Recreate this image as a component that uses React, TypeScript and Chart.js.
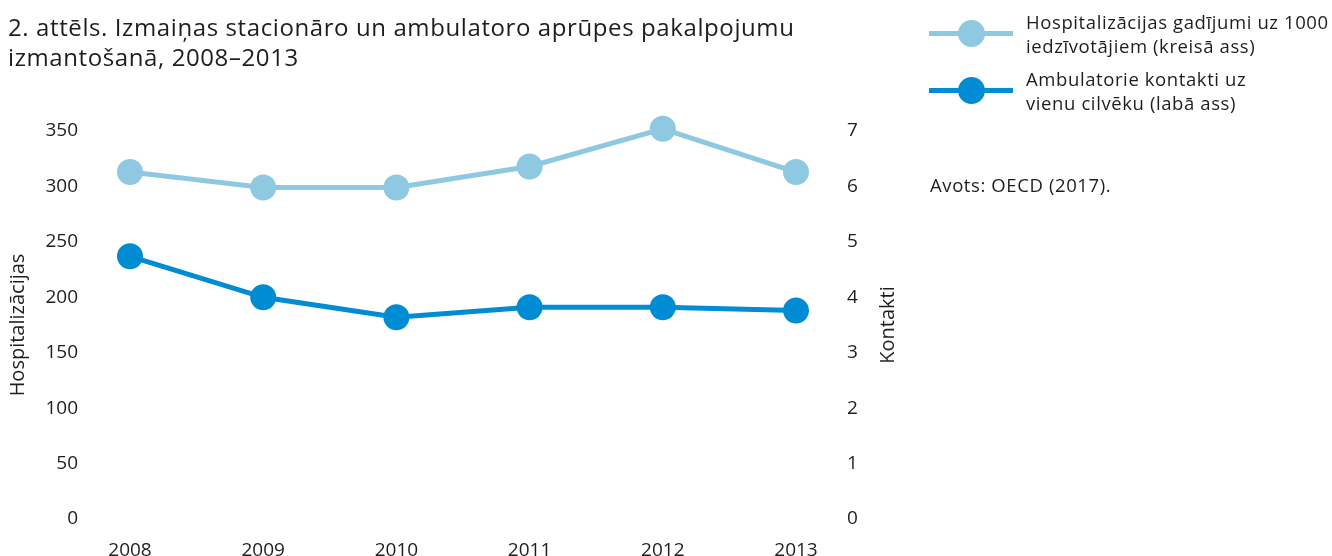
import React, { useEffect, useRef } from "react";
import { Chart, registerables } from "chart.js";

Chart.register(...registerables);

const years = ["2008", "2009", "2010", "2011", "2012", "2013"];
const hospitalisations = [313, 299, 299, 318, 352, 313];
const contacts = [4.74, 4.0, 3.64, 3.82, 3.82, 3.76];
const titleLines = [
  "2. attēls. Izmaiņas stacionāro un ambulatoro aprūpes pakalpojumu",
  "izmantošanā, 2008–2013",
];
const legendLines = [
  ["Hospitalizācijas gadījumi uz 1000", "iedzīvotājiem (kreisā ass)"],
  ["Ambulatorie kontakti uz", "vienu cilvēku (labā ass)"],
];
const leftAxisTitle = "Hospitalizācijas";
const rightAxisTitle = "Kontakti";
const sourceText = "Avots: OECD (2017).";
const colors = ["#8FC8E1", "#008CD2"];

const FONT = "'Open Sans', 'Noto Sans', sans-serif";
const TEXT = "#1e1e1e";

const rightTitlePlugin = {
  id: "rightTitle",
  afterDraw(chart: any) {
    const s = chart.scales.y1;
    const ca = chart.chartArea;
    const ctx = chart.ctx;
    ctx.save();
    ctx.translate(s.left + 92, (ca.top + ca.bottom) / 2);
    ctx.rotate(-Math.PI / 2);
    ctx.font = `20px ${FONT}`;
    ctx.fillStyle = TEXT;
    ctx.textAlign = "center";
    ctx.textBaseline = "middle";
    ctx.fillText(rightAxisTitle, 0, 0);
    ctx.restore();
  },
};

export default function App() {
  const ref = useRef<HTMLCanvasElement | null>(null);

  useEffect(() => {
    document.body.style.margin = "0";
    const chart = new Chart(ref.current as HTMLCanvasElement, {
      type: "line",
      data: {
        labels: years,
        datasets: [
          {
            label: legendLines[0].join(" "),
            data: hospitalisations,
            yAxisID: "y",
            borderColor: colors[0],
            backgroundColor: colors[0],
            borderWidth: 5,
            pointRadius: 13,
            pointHoverRadius: 13,
            pointBorderWidth: 0,
            clip: false as any,
            tension: 0,
          },
          {
            label: legendLines[1].join(" "),
            data: contacts,
            yAxisID: "y1",
            borderColor: colors[1],
            backgroundColor: colors[1],
            borderWidth: 5,
            pointRadius: 13,
            pointHoverRadius: 13,
            pointBorderWidth: 0,
            clip: false as any,
            tension: 0,
          },
        ],
      },
      options: {
        animation: false,
        responsive: false,
        maintainAspectRatio: false,
        layout: { padding: { top: 131, right: 426, bottom: 0, left: 0 } },
        plugins: {
          legend: { display: false },
          tooltip: { enabled: false },
          title: { display: false },
        },
        scales: {
          x: {
            offset: false,
            grid: { display: false, drawTicks: false },
            border: { display: false },
            ticks: { color: TEXT, font: { family: FONT, size: 19 }, padding: 20, maxRotation: 0 },
            afterFit: (s: any) => {
              s.height = 37;
              s.paddingLeft = 0;
              s.paddingRight = 0;
            },
          },
          y: {
            position: "left",
            min: 0,
            max: 350,
            grid: { display: false, drawTicks: false },
            border: { display: false },
            ticks: { stepSize: 50, color: TEXT, font: { family: FONT, size: 19 }, padding: 52 },
            title: {
              display: true,
              text: leftAxisTitle,
              color: TEXT,
              font: { family: FONT, size: 20 },
              padding: { top: 6, bottom: 0 },
            },
            afterFit: (s: any) => {
              s.width = 130;
              s.paddingTop = 0;
              s.paddingBottom = 0;
            },
          },
          y1: {
            position: "right",
            min: 0,
            max: 7,
            grid: { display: false, drawTicks: false },
            border: { display: false },
            ticks: { stepSize: 1, color: TEXT, font: { family: FONT, size: 19 }, padding: 51 },
            afterFit: (s: any) => {
              s.width = 110;
              s.paddingTop = 0;
              s.paddingBottom = 0;
            },
          },
        },
      },
      plugins: [rightTitlePlugin],
    });
    return () => chart.destroy();
  }, []);

  return (
    <div style={{ position: "relative", width: 1332, height: 556, overflow: "hidden", fontFamily: FONT, color: TEXT }}>
      <canvas ref={ref} width={1332} height={556} style={{ display: "block", position: "absolute", left: 0, top: 0 }} />
      <div style={{ position: "absolute", left: 8, top: 12, fontSize: 24, lineHeight: "30px", letterSpacing: "0.6px", whiteSpace: "nowrap" }}>
        {titleLines.map((l, i) => (
          <div key={i}>{l}</div>
        ))}
      </div>
      {legendLines.map((lines, i) => (
        <div key={i} style={{ position: "absolute", left: 929, top: i === 0 ? 10 : 67, height: 48 }}>
          <div style={{ position: "absolute", left: 0, top: 21, width: 84, height: 5, background: colors[i] }} />
          <div
            style={{
              position: "absolute",
              left: 29,
              top: 10,
              width: 27,
              height: 27,
              borderRadius: "50%",
              background: colors[i],
            }}
          />
          <div style={{ position: "absolute", left: 97, top: 0, fontSize: 18.5, lineHeight: "24px", letterSpacing: "0.6px", whiteSpace: "nowrap" }}>
            {lines.map((l, j) => (
              <div key={j}>{l}</div>
            ))}
          </div>
        </div>
      ))}
      <div style={{ position: "absolute", left: 930, top: 173, fontSize: 18.5, lineHeight: "24px", letterSpacing: "0.6px", whiteSpace: "nowrap" }}>
        {sourceText}
      </div>
    </div>
  );
}
